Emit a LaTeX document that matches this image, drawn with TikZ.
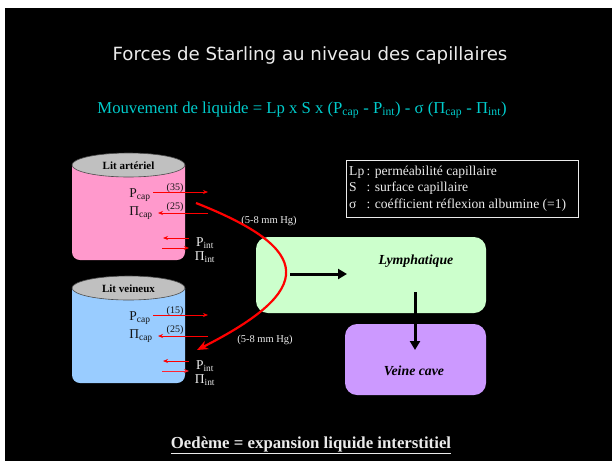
\documentclass[tikz,border=0pt]{standalone}
\usepackage{fontspec}
\setmainfont{Liberation Serif}
\newfontfamily\titlefont{DejaVu Sans}
\usetikzlibrary{arrows.meta}
\definecolor{cyanT}{RGB}{0,204,204}
\definecolor{pinkC}{RGB}{255,153,204}
\definecolor{blueC}{RGB}{153,204,255}
\definecolor{greenC}{RGB}{204,255,204}
\definecolor{purpleC}{RGB}{204,153,255}
\definecolor{grayC}{RGB}{192,192,192}
\definecolor{txt}{RGB}{235,235,235}
\definecolor{dark}{RGB}{20,20,20}
\tikzset{
  lbl/.style={text=txt, inner sep=0pt, font=\fontsize{13.5}{15}\selectfont},
  inlbl/.style={lbl, text=dark},
  num/.style={text=dark, inner sep=0pt, font=\fontsize{10}{11}\selectfont},
  mm/.style={text=txt, inner sep=0pt, font=\fontsize{10.5}{12}\selectfont},
  cyllabel/.style={text=black, inner sep=0pt, font=\bfseries\fontsize{11}{12}\selectfont},
  force/.style={red, line width=0.8pt, -{Stealth[length=5pt,width=4pt]}},
  boxstyle/.style={rounded corners=12pt, draw=none, inner sep=0pt},
  boxtext/.style={text=black, inner sep=0pt, font=\bfseries\itshape\fontsize{13.8}{15}\selectfont},
  flow/.style={black, line width=3pt, -{Triangle[length=9pt,width=10pt]}},
  starling/.style={red, line width=2.2pt, -{Stealth[length=11pt,width=9pt]}}
}
\begin{document}
\begin{tikzpicture}[x=1pt,y=-1pt]
\path[use as bounding box, fill=white] (0,0) rectangle (612,461);
\fill[black] (5,8) rectangle (612,461);

% title and formula
\node[text=txt, font=\titlefont\fontsize{18.2}{21}\selectfont] (title) at (310,55) {Forces de Starling au niveau des capillaires};
\node[text=cyanT, font=\fontsize{16.7}{19}\selectfont] (eq) at (302,110) {Mouvement de liquide = Lp x S x (P\textsubscript{cap} - P\textsubscript{int}) - σ (Π\textsubscript{cap} - Π\textsubscript{int})};

% cylinders
\foreach \dy/\col/\name in {0/pinkC/Lit artériel, 123/blueC/Lit veineux}{
  \begin{scope}[yshift=-\dy pt]
  \fill[\col] (72,165) -- (72,252) arc[start angle=180,end angle=90,radius=8] -- (177,260) arc[start angle=90,end angle=0,radius=8] -- (185,165) -- cycle;
  \filldraw[fill=grayC, draw=black!70, line width=0.6pt] (128.5,165) ellipse [x radius=56.5, y radius=12];
  \node[cyllabel] at (128.5,166) {\name};
  \end{scope}
}

% arterial labels
\node[inlbl] (pcapA) at (140,195) {P\textsubscript{cap}};
\node[inlbl] (picapA) at (141,213) {Π\textsubscript{cap}};
\node[num] (n35) at (175,188) {(35)};
\node[num] (n25a) at (175,207) {(25)};
\node[lbl] (pintA) at (205,243) {P\textsubscript{int}};
\node[lbl] (piintA) at (205,257) {Π\textsubscript{int}};
\node[mm] (mmA) at (269,221) {(5-8 mm Hg)};
\coordinate (a1s) at (153,192); \coordinate (a1e) at (208,192);
\coordinate (a2s) at (208,213); \coordinate (a2e) at (158,213);
\coordinate (a3s) at (189,238); \coordinate (a3e) at (163,238);
\coordinate (a4s) at (162,248); \coordinate (a4e) at (189,248);
\draw[force] (a1s) -- (a1e);
\draw[force] (a2s) -- (a2e);
\draw[force] (a3s) -- (a3e);
\draw[force] (a4s) -- (a4e);

% venous labels
\node[inlbl] (pcapV) at (140,318) {P\textsubscript{cap}};
\node[inlbl] (picapV) at (141,336) {Π\textsubscript{cap}};
\node[num] (n15) at (175,311) {(15)};
\node[num] (n25v) at (175,330) {(25)};
\node[lbl] (pintV) at (205,366) {P\textsubscript{int}};
\node[lbl] (piintV) at (205,380) {Π\textsubscript{int}};
\node[mm] (mmV) at (265,340) {(5-8 mm Hg)};
\coordinate (v1s) at (153,315); \coordinate (v1e) at (208,315);
\coordinate (v2s) at (208,336); \coordinate (v2e) at (158,336);
\coordinate (v3s) at (189,361); \coordinate (v3e) at (163,361);
\coordinate (v4s) at (162,371); \coordinate (v4e) at (189,371);
\draw[force] (v1s) -- (v1e);
\draw[force] (v2s) -- (v2e);
\draw[force] (v3s) -- (v3e);
\draw[force, red!75!pinkC] (v4s) -- (v4e);

% legend
\node[draw=txt, line width=0.7pt, minimum width=232pt, minimum height=57pt, inner sep=0pt] (legend) at (462,188.5) {};
\node[text=txt, anchor=west, inner sep=0pt, font=\fontsize{13.6}{16.5}\selectfont, align=left] (legtext) at (349,188.5)
  {\begin{tabular}{@{}l@{\,}l@{}}Lp & : perméabilité capillaire\\ S & : surface capillaire\\ σ & : coéfficient réflexion albumine (=1)\end{tabular}};

% boxes
\node[boxstyle, fill=greenC, minimum width=230pt, minimum height=76pt] (lym) at (371,275) {};
\node[boxtext] (lymtxt) at (416,261) {Lymphatique};
\node[boxstyle, fill=purpleC, minimum width=141pt, minimum height=71pt] (vc) at (415.5,359.5) {};
\node[boxtext] (vctxt) at (414,371) {Veine cave};

\coordinate (f1s) at (290,274); \coordinate (f1e) at (347,274);
\coordinate (f2s) at (415,292); \coordinate (f2e) at (415,350);
\draw[flow] (f1s) -- (f1e);
\draw[flow] (f2s) -- (f2e);

% starling curve
\coordinate (cs) at (196,203); \coordinate (ce) at (197,350);
\draw[starling] (cs) .. controls (315,250) and (315,290) .. (ce);

% bottom
\node[text=txt, font=\bfseries\fontsize{16.8}{19}\selectfont] (oed) at (311,445) {\underline{Oedème = expansion liquide interstitiel}};
\end{tikzpicture}
\end{document}
